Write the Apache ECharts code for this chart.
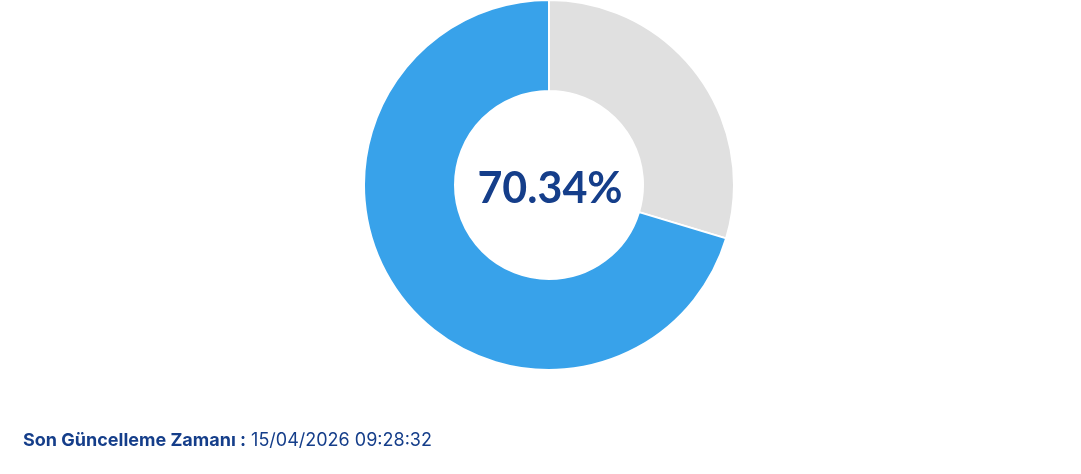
<!DOCTYPE html>
<html>
<head>
<meta charset="utf-8">
<style>
  html, body { margin: 0; padding: 0; background: #fff; }
  #main { width: 1081px; height: 474px; }
</style>
<script src="https://cdn.jsdelivr.net/npm/echarts@6/dist/echarts.min.js"></script>
</head>
<body>
<div id="main"></div>
<script>
// data
var sliceNames = ['Kalan', 'Doluluk']
var sliceValues = [29.66, 70.34]
var sliceColors = ['#e0e0e0', '#38a2ea']
var centerLabel = '70.34%'
var updateLabel = 'Son Güncelleme Zamanı :'
var updateTime = '15/04/2026 09:28:32'

var chart = echarts.init(document.getElementById('main'))
chart.setOption({
  animation: false,
  title: [{
    text: centerLabel,
    left: 545,
    top: 163,
    textAlign: 'center',
    textStyle: { fontFamily: 'Lato', fontWeight: 'bold', fontSize: 43, color: '#153e8a' }
  }, {
    text: '{b|' + updateLabel + '} {n|' + updateTime + '}',
    left: 18,
    top: 427,
    textStyle: {
      rich: {
        b: { fontFamily: 'Inter', fontWeight: 'bold', fontSize: 18, color: '#153e8a' },
        n: { fontFamily: 'Inter', fontWeight: 'normal', fontSize: 18, color: '#153e8a' }
      }
    }
  }],
  series: [{
    type: 'pie',
    center: [549, 185],
    radius: [94, 185],
    startAngle: 90,
    clockwise: true,
    label: { show: false },
    labelLine: { show: false },
    itemStyle: { borderColor: '#fff', borderWidth: 2 },
    emphasis: { disabled: true },
    data: sliceNames.map(function (n, i) {
      return { name: n, value: sliceValues[i], itemStyle: { color: sliceColors[i] } }
    })
  }]
})
</script>
</body>
</html>
